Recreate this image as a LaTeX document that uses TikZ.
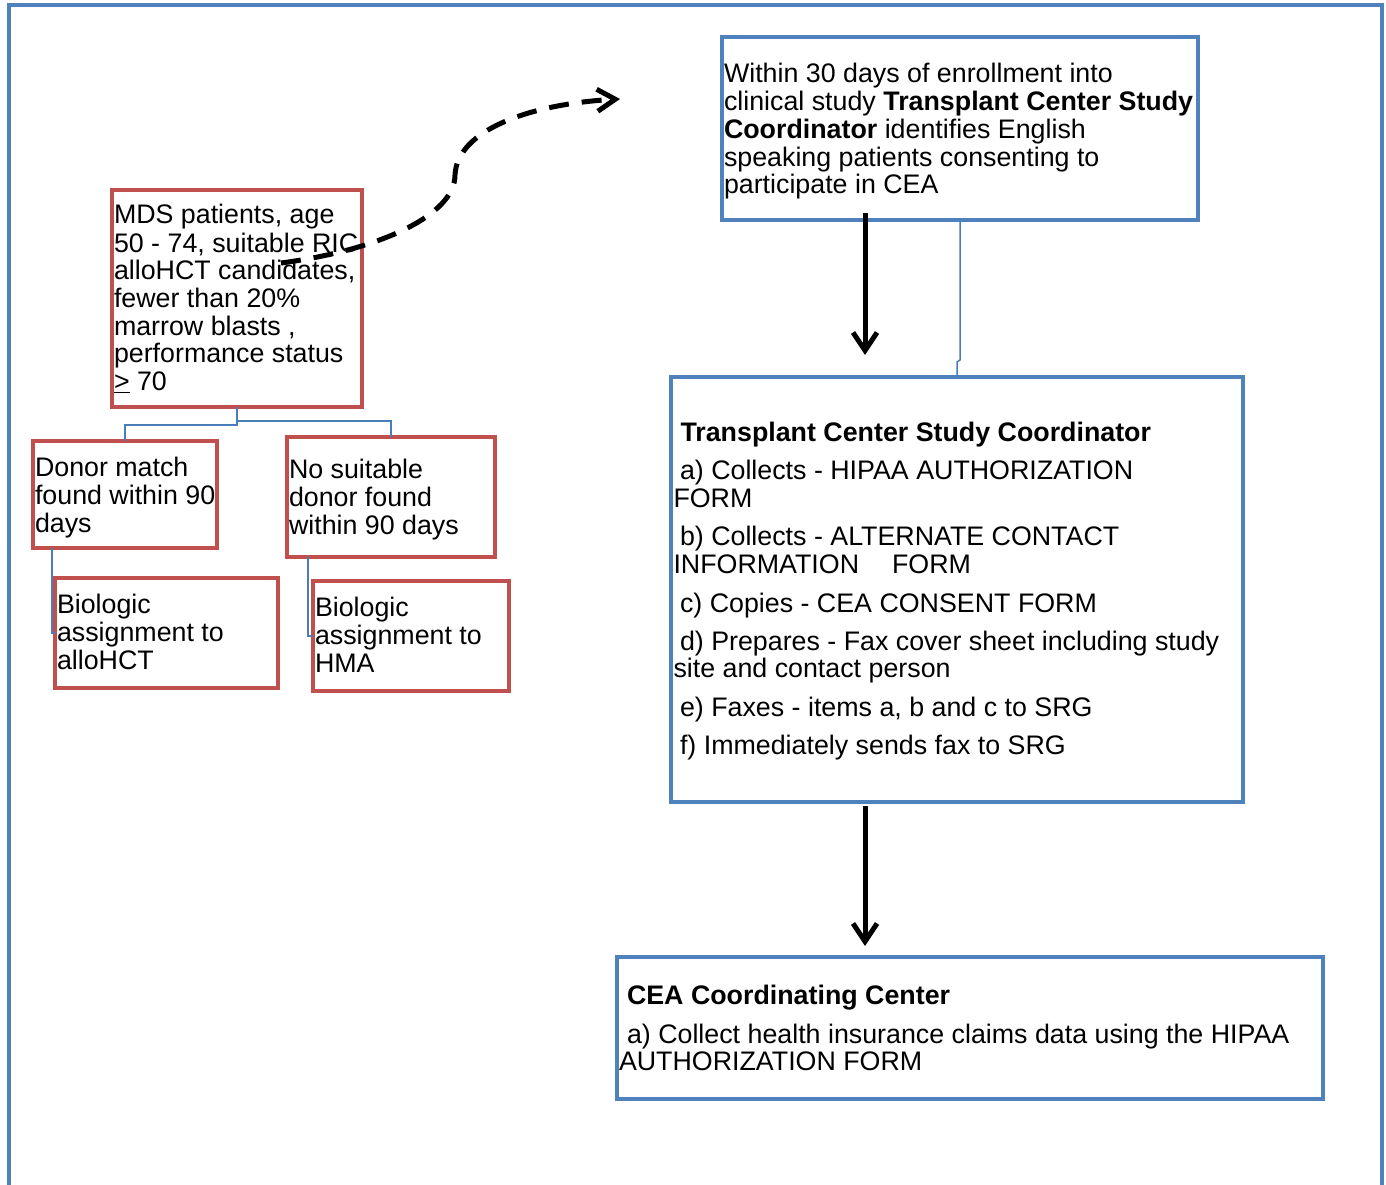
\documentclass[tikz,border=0pt]{standalone}
\usepackage{fontspec}
\setmainfont{Liberation Sans}
\usetikzlibrary{arrows.meta}
\definecolor{bblue}{HTML}{4F81BD}
\definecolor{rred}{HTML}{C0504D}
\definecolor{cblue}{HTML}{4A7EBB}
\newcommand{\fsz}{\fontsize{26.8}{27.6}\selectfont}
\begin{document}
\begin{tikzpicture}[x=1pt,y=-1pt,
  bluebox/.style={draw=bblue, line width=4pt, rectangle, anchor=north west, inner sep=0pt, outer sep=0pt},
  redbox/.style={draw=rred, line width=4.5pt, rectangle, anchor=north west, inner sep=0pt, outer sep=0pt},
  txt/.style={anchor=north west, inner sep=0pt, outer sep=0pt, align=left, font=\fsz},
  conn/.style={draw=cblue, line width=1.5pt},
  arr/.style={line width=5pt, -{Straight Barb[length=18pt,width=24pt]}},
  darr/.style={line width=5pt, dash pattern=on 20pt off 13pt, -{Straight Barb[length=18pt,width=22pt]}}]
\useasboundingbox (0,0) rectangle (1386,1185);
% outer frame
\draw[bblue, line width=4.5pt] (9,1200) -- (9,5) -- (1382,5) -- (1382,1200);

% boxes
\node[bluebox, minimum width=476pt, minimum height=183pt] (top) at (722,37) {};
\node[bluebox, minimum width=572pt, minimum height=425pt] (mid) at (671,377) {};
\node[bluebox, minimum width=706pt, minimum height=142pt] (bot) at (617,957) {};
\node[redbox, minimum width=250pt, minimum height=217pt] (mds) at (112,190) {};
\node[redbox, minimum width=184pt, minimum height=107pt] (donor) at (33,441) {};
\node[redbox, minimum width=208pt, minimum height=120pt] (nosuit) at (287,437) {};
\node[redbox, minimum width=223pt, minimum height=110pt] (bioa) at (55,578) {};
\node[redbox, minimum width=196pt, minimum height=110pt] (biob) at (313,581) {};

% texts
\node[txt] (ttop) at (724,62.7) {\strut Within 30 days of enrollment into\\
clinical study \textbf{Transplant Center Study}\\
\textbf{Coordinator} identifies English\\
speaking patients consenting to\\
participate in CEA};
\node[txt] (tmds) at (114,204.2) {\strut MDS patients, age\\
50 - 74, suitable RIC\\
alloHCT candidates,\\
fewer than 20\%\\
marrow blasts ,\\
performance status\\
\underline{>} 70};
\node[txt] (tdonor) at (35,456.7) {\strut Donor match\\found within 90\\days};
\node[txt] (tnosuit) at (289,458.7) {\strut No suitable\\donor found\\within 90 days};
\node[txt] (tbioa) at (57,593.7) {\strut Biologic\\assignment to\\alloHCT};
\node[txt] (tbiob) at (315,596.7) {\strut Biologic\\assignment to\\HMA};
\node[txt] (tmid) at (673.5,421.7) {\strut\hspace*{7pt}\textbf{Transplant Center Study Coordinator}\\[9.8pt]
\hspace*{6.5pt}a) Collects - HIPAA AUTHORIZATION\\
FORM\\[11pt]
\hspace*{6.5pt}b) Collects - ALTERNATE CONTACT\\
INFORMATION\hspace{33pt}FORM\\[11pt]
\hspace*{6.5pt}c) Copies - CEA CONSENT FORM\\[10.5pt]
\hspace*{6.5pt}d) Prepares - Fax cover sheet including study\\
site and contact person\\[11.5pt]
\hspace*{6.5pt}e) Faxes - items a, b and c to SRG\\[10.5pt]
\hspace*{6.5pt}f) Immediately sends fax to SRG};
\node[txt] (tbot) at (619,984.7) {\strut\hspace*{8pt}\textbf{CEA Coordinating Center}\\[10.5pt]
\hspace*{8pt}a) Collect health insurance claims data using the HIPAA\\
AUTHORIZATION FORM};

% thin connectors
\coordinate (split) at (237,421);
\draw[conn] (mds.south) -- (237,425) -| (donor.north);
\draw[conn] (split) -| (nosuit.north);
\draw[conn] (donor.south -| 52,0) |- (bioa.west);
\draw[conn] (nosuit.south -| 308,0) |- (biob.west);
\draw[conn] (top.south -| 960,0) -- (960,360) -- (957,362) -- (mid.north -| 957,0);

% black arrows
\draw[arr, shorten <=-7pt, shorten >=22pt] (top.south -| 865,0) -- (mid.north -| 865,0);
\draw[arr, shorten <=4pt, shorten >=11pt] (mid.south -| 865,0) -- (bot.north -| 865,0);

% dashed curved arrow
\coordinate (dstart) at (281,263);
\coordinate (dmid) at (455,175);
\coordinate (dend) at (620,99);
\draw[darr] (dstart) .. controls (380,250) and (455,215) .. (dmid)
  .. controls (457,130) and (530,104) .. (dend);
\end{tikzpicture}
\end{document}
